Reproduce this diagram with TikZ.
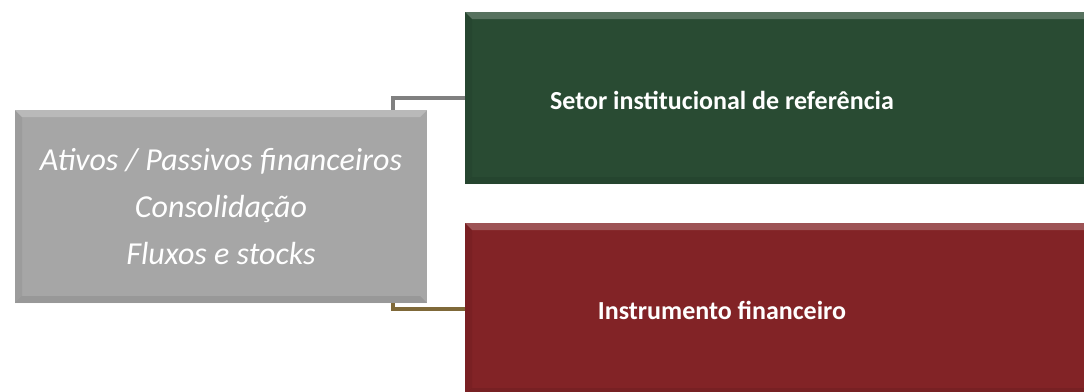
\documentclass[tikz,border=0pt]{standalone}
\usepackage{fontspec}
\setmainfont{Carlito}
\usetikzlibrary{positioning,calc}
\definecolor{propgray}{HTML}{A6A6A6}
\definecolor{setorgreen}{HTML}{294B33}
\definecolor{instrred}{HTML}{822326}
\definecolor{linkgray}{HTML}{808080}
\definecolor{linkbrown}{HTML}{7F6939}

\begin{document}
\begin{tikzpicture}[x=1pt,y=-1pt,
  box/.style={rectangle,inner sep=0pt,text=white,align=center},
  bevel/.style={path picture={
    \fill[white,opacity=.22] (path picture bounding box.north west) -- (path picture bounding box.north east)
      -- ([shift={(-7pt,-7pt)}]path picture bounding box.north east) -- ([shift={(7pt,-7pt)}]path picture bounding box.north west) -- cycle;
    \fill[black,opacity=.08] (path picture bounding box.south west) -- (path picture bounding box.south east)
      -- ([shift={(-7pt,7pt)}]path picture bounding box.south east) -- ([shift={(7pt,7pt)}]path picture bounding box.south west) -- cycle;
    \fill[black,opacity=.06] (path picture bounding box.north west) -- (path picture bounding box.south west)
      -- ([shift={(7pt,7pt)}]path picture bounding box.south west) -- ([shift={(7pt,-7pt)}]path picture bounding box.north west) -- cycle;}},
  link/.style={line width=4pt}]
\useasboundingbox (0,0) rectangle (1084,391);
\node[box,bevel,fill=propgray,minimum width=412pt,minimum height=193pt,
  font=\itshape\fontsize{32}{47}\selectfont] (props) at (221,206.5)
  {Ativos / Passivos financeiros\\Consolidação\\Fluxos e stocks};
\node[box,bevel,fill=setorgreen,minimum width=640pt,minimum height=172pt] (setor) at (785,98) {};
\node[box,bevel,fill=instrred,minimum width=640pt,minimum height=172pt] (instr) at (785,309) {};
\node[box,font=\bfseries\fontsize{26}{30}\selectfont] (setortxt) at (722,100) {Setor institucional de referência};
\node[box,font=\bfseries\fontsize{26}{30}\selectfont] (instrtxt) at (722,310) {Instrumento financeiro};
% connectors
\draw[link,linkgray] ([xshift=-34pt]props.north east) |- (setor.west);
\draw[link,linkbrown] ([xshift=-34pt]props.south east) |- (instr.west);
\end{tikzpicture}
\end{document}
